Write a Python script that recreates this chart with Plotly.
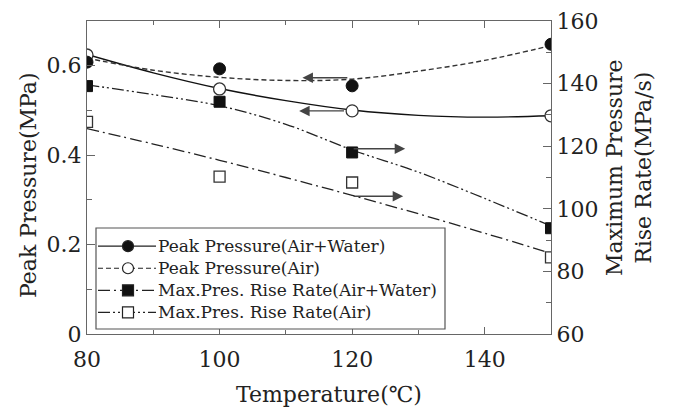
import plotly.graph_objects as go

# ---- data ----
temps = [80, 100, 120, 150]
peak_air_water = [0.608, 0.593, 0.555, 0.648]      # filled circles (MPa)
peak_air = [0.624, 0.548, 0.499, 0.488]            # open circles (MPa)
rate_air_water = [139.2, 134.2, 118.0, 93.8]       # filled squares (MPa/s)
rate_air = [127.8, 110.3, 108.4, 84.5]             # open squares (MPa/s)

fit_temps = [80, 90, 100, 110, 120, 130, 140, 150]
fit_solid = [0.625, 0.584, 0.549, 0.522, 0.501, 0.489, 0.485, 0.488]
fit_dashed = [0.617, 0.590, 0.574, 0.567, 0.570, 0.588, 0.612, 0.645]
fit_rate_aw = [139.6, 136.5, 132.9, 127.0, 118.8, 111.7, 103.3, 94.5]
fit_rate_a = [125.6, 120.7, 115.5, 110.0, 104.3, 98.4, 92.2, 85.8]

legend_labels = [
    "Peak Pressure(Air+Water)",
    "Peak Pressure(Air)",
    "Max.Pres. Rise Rate(Air+Water)",
    "Max.Pres. Rise Rate(Air)",
]
x_title = "Temperature(℃)"
y_title = "Peak Pressure(MPa)"
y2_title = "Maximum Pressure<br>Rise Rate(MPa/s)"

FONT = "DejaVu Serif"
INK = "#222222"
AX = "#666666"

DASH_SHORT = "5px,3px"
DASH_DDOT = "12px,3px,2px,3px,2px,3px"
DASH_DOT = "12px,4px,2px,4px"

fig = go.Figure()

# fitted curves
fig.add_trace(go.Scatter(x=fit_temps, y=fit_solid, mode="lines", line=dict(color="#111", width=1.4, shape="spline"),
                         showlegend=False, yaxis="y"))
fig.add_trace(go.Scatter(x=fit_temps, y=fit_dashed, mode="lines", line=dict(color="#333", width=1.4, dash=DASH_SHORT, shape="spline"),
                         showlegend=False, yaxis="y"))
fig.add_trace(go.Scatter(x=fit_temps, y=fit_rate_aw, mode="lines", line=dict(color="#222", width=1.3, dash=DASH_DDOT, shape="spline"),
                         showlegend=False, yaxis="y2"))
fig.add_trace(go.Scatter(x=fit_temps, y=fit_rate_a, mode="lines", line=dict(color="#222", width=1.3, dash=DASH_DOT, shape="spline"),
                         showlegend=False, yaxis="y2"))

# measured points
fig.add_trace(go.Scatter(x=temps, y=peak_air, mode="markers",
                         marker=dict(symbol="circle", size=12, color="white", line=dict(color="#333", width=1.3)),
                         showlegend=False, yaxis="y"))
fig.add_trace(go.Scatter(x=temps, y=peak_air_water, mode="markers",
                         marker=dict(symbol="circle", size=12, color="#111", line=dict(color="#111", width=1)),
                         showlegend=False, yaxis="y"))
fig.add_trace(go.Scatter(x=temps, y=rate_air, mode="markers",
                         marker=dict(symbol="square", size=11, color="white", line=dict(color="#333", width=1.3)),
                         showlegend=False, yaxis="y2"))
fig.add_trace(go.Scatter(x=temps, y=rate_air_water, mode="markers",
                         marker=dict(symbol="square", size=11, color="#111", line=dict(color="#111", width=1)),
                         showlegend=False, yaxis="y2"))

# axis-indicating arrows
arrows = [
    dict(x=112.5, y=0.573, ax=119.5, ay=0.573, yref="y"),
    dict(x=112.0, y=0.499, ax=119.0, ay=0.499, yref="y"),
    dict(x=128.0, y=119.2, ax=120.0, ay=119.2, yref="y2"),
    dict(x=127.7, y=104.0, ax=120.0, ay=104.0, yref="y2"),
]
for a in arrows:
    fig.add_annotation(x=a["x"], y=a["y"], ax=a["ax"], ay=a["ay"], xref="x", yref=a["yref"],
                       axref="x", ayref=a["yref"], showarrow=True, arrowhead=2, arrowsize=1.5,
                       arrowwidth=1.4, arrowcolor="#444", text="")

# ---- manual legend (pixel layout converted to paper coords) ----
L, R, T, B = 87, 551, 21, 334
def px(xp):
    return (xp - L) / (R - L)
def py(yp):
    return (B - yp) / (B - T)

fig.add_shape(type="rect", xref="paper", yref="paper", x0=px(96), x1=px(445), y0=py(329), y1=py(228),
              line=dict(color="#555", width=1.2), fillcolor="white", layer="above")
line_h = 17 * 1.3
mid = 279.3
rows = [mid + (i - 1.5) * line_h for i in range(4)]
styles = [
    dict(dash="solid", sym="circle", fill="#111"),
    dict(dash=DASH_SHORT, sym="circle", fill="white"),
    dict(dash=DASH_DOT, sym="rect", fill="#111"),
    dict(dash=DASH_DDOT, sym="rect", fill="white"),
]
for ry, st in zip(rows, styles):
    fig.add_shape(type="line", xref="paper", yref="paper", x0=px(98), x1=px(156), y0=py(ry), y1=py(ry),
                  line=dict(color="#222", width=1.2, dash=st["dash"]), layer="above")
    fig.add_shape(type=st["sym"], xref="paper", yref="paper", xsizemode="pixel", ysizemode="pixel",
                  xanchor=px(128), yanchor=py(ry), x0=-5.5, x1=5.5, y0=-5.5, y1=5.5,
                  fillcolor=st["fill"], line=dict(color="#222", width=1.2), layer="above")
fig.add_annotation(xref="paper", yref="paper", x=px(157), y=py(mid), xanchor="left", yanchor="middle",
                   align="left", text="<br>".join(legend_labels), showarrow=False, borderpad=0,
                   font=dict(family=FONT, size=17, color=INK))

# axis titles
fig.add_annotation(xref="paper", yref="paper", x=px(329), y=py(394), xanchor="center", yanchor="middle",
                   text=x_title, showarrow=False, font=dict(family=FONT, size=22, color=INK))
fig.add_annotation(xref="paper", yref="paper", x=px(29), y=py(185), xanchor="center", yanchor="middle",
                   text=y_title, textangle=-90, showarrow=False, font=dict(family=FONT, size=22, color=INK))
fig.add_annotation(xref="paper", yref="paper", x=px(629), y=py(168), xanchor="center", yanchor="middle",
                   text=y2_title, textangle=-90, showarrow=False, font=dict(family=FONT, size=22, color=INK))

fig.update_layout(
    width=676, height=410,
    margin=dict(l=L, r=676 - R, t=T, b=410 - B, autoexpand=False),
    paper_bgcolor="white", plot_bgcolor="white",
    font=dict(family=FONT, color=INK),
    showlegend=False,
    xaxis=dict(range=[80, 150], tickvals=[80, 100, 120, 140], ticks="inside", ticklen=7, tickwidth=1.2,
               tickcolor=AX, showline=True, linecolor=AX, linewidth=1.3, mirror="ticks", showgrid=False,
               zeroline=False, tickfont=dict(size=22, family=FONT, color=INK), ticklabelstandoff=5,
               minor=dict(dtick=10, tick0=80, ticks="inside", ticklen=4, tickcolor=AX)),
    yaxis=dict(range=[0, 0.7], tickvals=[0, 0.2, 0.4, 0.6], ticktext=["0", "0.2", "0.4", "0.6"],
               ticks="inside", ticklen=8, tickwidth=1.2, tickcolor=AX, showline=True, linecolor=AX,
               linewidth=1.3, showgrid=False, zeroline=False, tickfont=dict(size=22, family=FONT, color=INK),
               minor=dict(dtick=0.1, tick0=0, ticks="inside", ticklen=5, tickcolor=AX)),
    yaxis2=dict(range=[60, 160], tickvals=[60, 80, 100, 120, 140, 160], overlaying="y", side="right",
                ticks="inside", ticklen=8, tickwidth=1.2, tickcolor=AX, showline=True, linecolor=AX,
                linewidth=1.3, showgrid=False, zeroline=False, tickfont=dict(size=22, family=FONT, color=INK),
                minor=dict(dtick=10, tick0=60, ticks="inside", ticklen=5, tickcolor=AX)),
)

fig.write_html("out.html")
